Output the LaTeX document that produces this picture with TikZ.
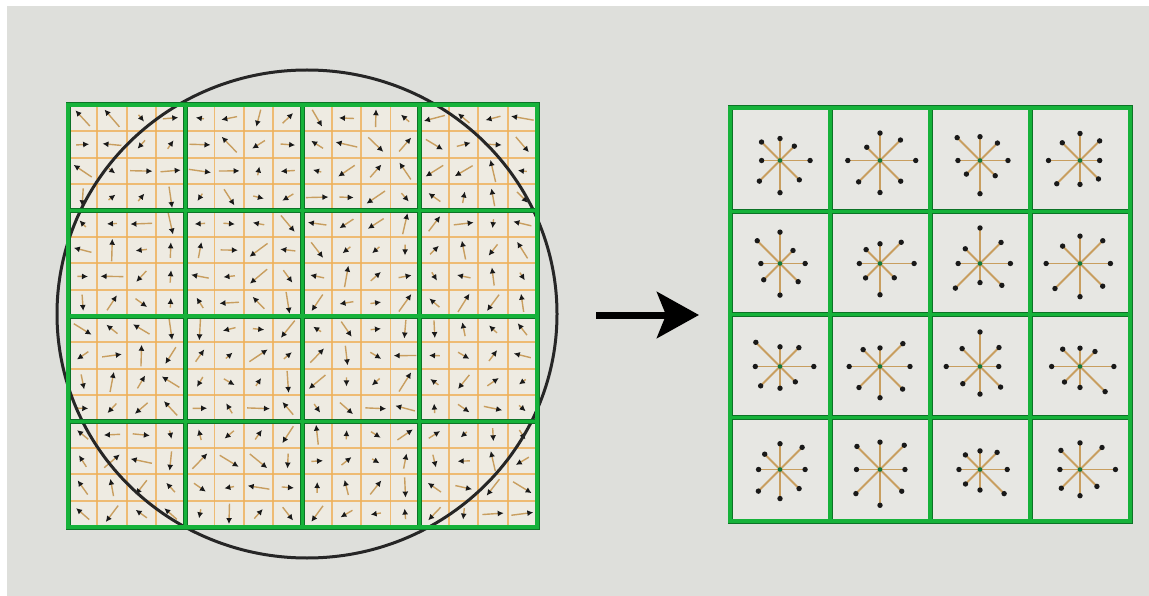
\documentclass[tikz,border=0pt]{standalone}
\usetikzlibrary{arrows.meta,calc}
\definecolor{bg}{RGB}{222,223,219}
\definecolor{paper}{RGB}{238,235,226}
\definecolor{gridor}{RGB}{238,176,88}
\definecolor{boxgreen}{RGB}{22,178,58}
\definecolor{boxdark}{RGB}{12,115,38}
\definecolor{raytan}{RGB}{200,158,95}
\definecolor{cellbg}{RGB}{231,231,227}
\definecolor{hubgreen}{RGB}{20,120,60}
\tikzset{
  gedge/.style={line width=5pt, boxdark},
  gline/.style={line width=3.3pt, boxgreen},
  orline/.style={line width=1.8pt, gridor, opacity=0.8},
  grad/.style={line width=1.4pt, raytan, -{Latex[black!90,length=6pt,width=6pt]}},
  ray/.style={line width=1.8pt, raytan},
}
\begin{document}
\begin{tikzpicture}[x=1pt,y=-1pt]
\useasboundingbox (0,0) rectangle (1149,596);
\fill[white] (0,0) rectangle (1149,596);
\fill[bg] (7,6) rectangle (1149,596);

% ---- left: sample grid with gradient arrows ----
\fill[paper] (68,105) rectangle (537,527);
\foreach \k in {1,...,15}{
  \pgfmathsetmacro\gx{68+\k*469/16}
  \pgfmathsetmacro\gy{105+\k*422/16}
  \draw[orline] (\gx,105) -- (\gx,527);
  \draw[orline] (68,\gy) -- (537,\gy);
}
\pgfmathsetseed{4217}
\foreach \i in {0,...,15}{
  \foreach \j in {0,...,15}{
    \pgfmathsetmacro\cx{68+(\i+0.5)*469/16}
    \pgfmathsetmacro\cy{105+(\j+0.5)*422/16}
    \pgfmathsetmacro\ang{random(0,7)*45+(rnd-0.5)*30}
    \pgfmathsetmacro\len{8+rnd*15}
    \pgfmathsetmacro\sx{\cx-0.5*\len*cos(\ang)}
    \pgfmathsetmacro\sy{\cy-0.5*\len*sin(\ang)}
    \pgfmathsetmacro\ex{\cx+0.5*\len*cos(\ang)}
    \pgfmathsetmacro\ey{\cy+0.5*\len*sin(\ang)}
    \coordinate (s) at (\sx,\sy);
    \coordinate (e) at (\ex,\ey);
    \draw[grad] (s) -- (e);
  }
}
% keypoint neighbourhood
\draw[line width=3pt, black!85] (307,314) ellipse [x radius=250, y radius=244];
% 4x4 subregions
\foreach \k in {1,2,3}{
  \pgfmathsetmacro\gx{68+\k*469/4}
  \pgfmathsetmacro\gy{105+\k*422/4}
  \draw[gedge] (\gx,105) -- (\gx,527);
  \draw[gedge] (68,\gy) -- (537,\gy);
}
\draw[gedge] (68,105) rectangle (537,527);
\foreach \k in {1,2,3}{
  \pgfmathsetmacro\gx{68+\k*469/4}
  \pgfmathsetmacro\gy{105+\k*422/4}
  \draw[gline] (\gx,105) -- (\gx,527);
  \draw[gline] (68,\gy) -- (537,\gy);
}
\draw[gline] (68,105) rectangle (537,527);

% ---- arrow ----
\coordinate (arrowtail) at (596,315);
\coordinate (arrowhead) at (699,315);
\draw[line width=7pt, black, -{Stealth[length=42pt,width=46pt,inset=9pt]}] (arrowtail) -- (arrowhead);

% ---- right: orientation histograms ----
\fill[cellbg] (730,108) rectangle (1130,521);
\pgfmathsetseed{903}
\foreach \i in {0,...,3}{
  \foreach \j in {0,...,3}{
    \pgfmathsetmacro\hx{780+\i*100}
    \pgfmathsetmacro\hy{round(108+(\j+0.5)*413/4)+0.5}
    \coordinate (hub) at (\hx,\hy);
    \foreach \d in {0,45,...,315}{
      \pgfmathsetmacro\rl{18+rnd*18}
      \coordinate (tip) at ($(hub)+(\d:\rl)$);
      \draw[ray] (hub) -- (tip);
      \fill[black!90] (tip) circle[radius=2.7pt];
    }
    \fill[hubgreen] (hub) circle[radius=2.3pt];
  }
}
\foreach \k in {1,2,3}{
  \pgfmathsetmacro\gx{730+\k*100}
  \pgfmathsetmacro\gy{108+\k*413/4}
  \draw[gedge] (\gx,108) -- (\gx,521);
  \draw[gedge] (730,\gy) -- (1130,\gy);
}
\draw[gedge] (730,108) rectangle (1130,521);
\foreach \k in {1,2,3}{
  \pgfmathsetmacro\gx{730+\k*100}
  \pgfmathsetmacro\gy{108+\k*413/4}
  \draw[gline] (\gx,108) -- (\gx,521);
  \draw[gline] (730,\gy) -- (1130,\gy);
}
\draw[gline] (730,108) rectangle (1130,521);
\end{tikzpicture}
\end{document}
